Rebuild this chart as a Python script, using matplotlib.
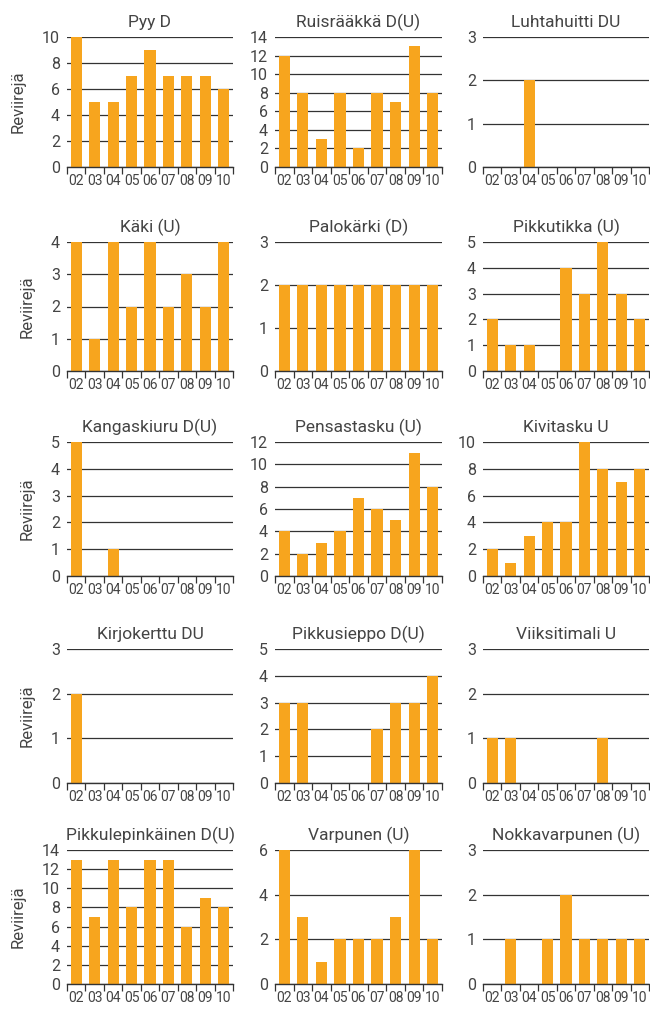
import matplotlib
matplotlib.use("Agg")
import matplotlib.pyplot as plt
from matplotlib.ticker import MultipleLocator, FixedLocator, NullFormatter
import numpy as np

plt.rcParams['font.family'] = ['Roboto', 'DejaVu Sans']

years = ["02", "03", "04", "05", "06", "07", "08", "09", "10"]

titles = ["Pyy D", "Ruisrääkkä D(U)", "Luhtahuitti DU",
          "Käki (U)", "Palokärki (D)", "Pikkutikka (U)",
          "Kangaskiuru D(U)", "Pensastasku (U)", "Kivitasku U",
          "Kirjokerttu DU", "Pikkusieppo D(U)", "Viiksitimali U",
          "Pikkulepinkäinen D(U)", "Varpunen (U)", "Nokkavarpunen (U)"]

pyy = [10, 5, 5, 7, 9, 7, 7, 7, 6]
ruisraakka = [12, 8, 3, 8, 2, 8, 7, 13, 8]
luhtahuitti = [0, 0, 2, 0, 0, 0, 0, 0, 0]
kaki = [4, 1, 4, 2, 4, 2, 3, 2, 4]
palokarki = [2, 2, 2, 2, 2, 2, 2, 2, 2]
pikkutikka = [2, 1, 1, 0, 4, 3, 5, 3, 2]
kangaskiuru = [5, 0, 1, 0, 0, 0, 0, 0, 0]
pensastasku = [4, 2, 3, 4, 7, 6, 5, 11, 8]
kivitasku = [2, 1, 3, 4, 4, 10, 8, 7, 8]
kirjokerttu = [2, 0, 0, 0, 0, 0, 0, 0, 0]
pikkusieppo = [3, 3, 0, 0, 0, 2, 3, 3, 4]
viiksitimali = [1, 1, 0, 0, 0, 0, 1, 0, 0]
pikkulepinkainen = [13, 7, 13, 8, 13, 13, 6, 9, 8]
varpunen = [6, 3, 1, 2, 2, 2, 3, 6, 2]
nokkavarpunen = [0, 1, 0, 1, 2, 1, 1, 1, 1]

series = [pyy, ruisraakka, luhtahuitti, kaki, palokarki, pikkutikka,
          kangaskiuru, pensastasku, kivitasku, kirjokerttu, pikkusieppo,
          viiksitimali, pikkulepinkainen, varpunen, nokkavarpunen]

ymax = [10, 14, 3, 4, 3, 5, 5, 12, 10, 3, 5, 3, 14, 6, 3]
ystep = [2, 2, 1, 1, 1, 1, 1, 2, 2, 1, 1, 1, 2, 2, 1]

W, H = 650, 1010
fig = plt.figure(figsize=(W / 100, H / 100), dpi=100)

col_left = [67, 275, 483]
col_w = [166, 167, 166]
row_top = [37, 242, 442, 649, 850]
row_bot = [167, 371, 576, 783, 984]

orange = "#F7A51E"
textc = "#444444"

for i, (title, vals) in enumerate(zip(titles, series)):
    r, c = divmod(i, 3)
    left = col_left[c] / W
    bottom = 1 - row_bot[r] / H
    width = col_w[c] / W
    height = (row_bot[r] - row_top[r]) / H
    ax = fig.add_axes([left, bottom, width, height])
    x = np.arange(len(years))
    ax.bar(x, vals, width=0.6, color=orange, zorder=3)
    ax.set_xlim(-0.5, len(years) - 0.5)
    ax.set_ylim(0, ymax[i])
    ax.yaxis.set_major_locator(MultipleLocator(ystep[i]))
    ax.grid(axis='y', color='#333333', linewidth=0.9, zorder=1)
    for s in ['top', 'right', 'left']:
        ax.spines[s].set_visible(False)
    ax.spines['bottom'].set_color('#333333')
    ax.spines['bottom'].set_linewidth(1.0)
    ax.spines['bottom'].set_zorder(4)
    ax.tick_params(axis='y', length=0, labelsize=11.5, labelcolor=textc, pad=5)
    ax.set_xticks(x)
    ax.set_xticklabels(years)
    ax.xaxis.set_minor_locator(FixedLocator(np.arange(-0.5, len(years), 1.0)))
    ax.xaxis.set_minor_formatter(NullFormatter())
    ax.tick_params(axis='x', which='major', length=0, labelsize=10,
                   labelcolor=textc, pad=5)
    ax.tick_params(axis='x', which='minor', length=5, width=0.9,
                   color='#333333', direction='out')
    ax.set_title(title, fontsize=12.5, color=textc, pad=7)
    if c == 0:
        ax.set_ylabel("Reviirejä", fontsize=12, color=textc, labelpad=12)

fig.savefig("out.png", dpi=100)
